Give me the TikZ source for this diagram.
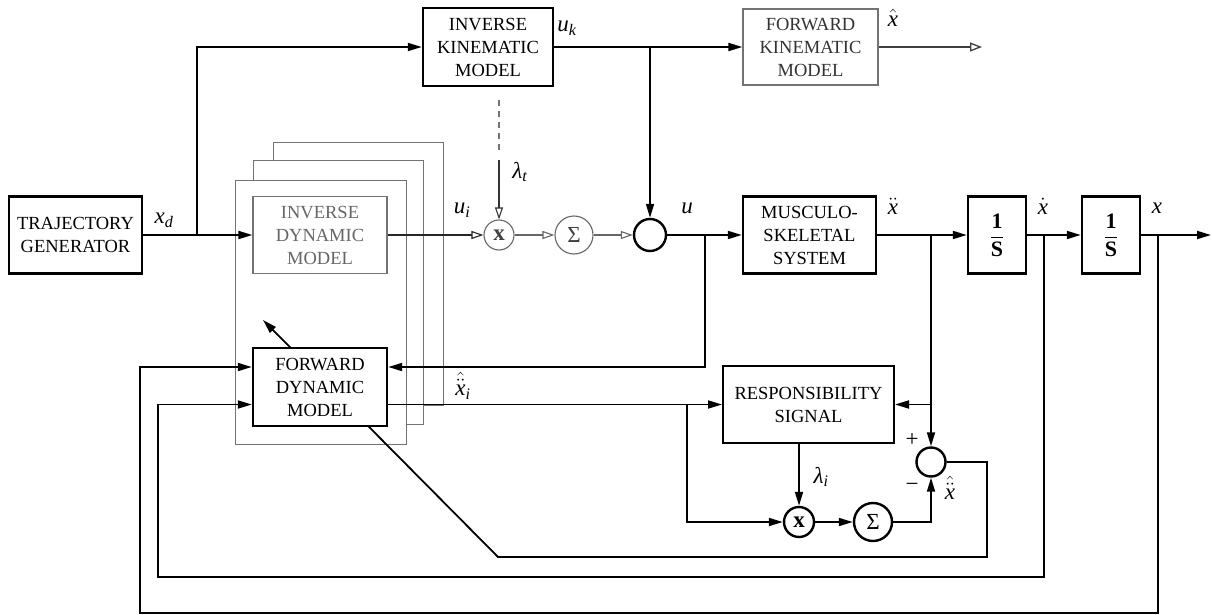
\documentclass[tikz,border=0pt]{standalone}
\usepackage{fontspec}
\setmainfont{Liberation Serif}
\usetikzlibrary{arrows.meta,calc}
\pgfdeclarelayer{background}
\pgfsetlayers{background,main}
\newcommand{\blkfont}{\fontsize{18.5}{23}\selectfont}
\newcommand{\lblfont}{\fontsize{23}{26}\selectfont}
\newcommand{\fracfont}{\fontsize{22}{26}\selectfont}
\newcommand{\ix}{\mbox{\textit{x}}}
\newcommand{\sbi}[1]{\textsubscript{\textit{#1}}}
\tikzset{
  blk/.style={draw, line width=2.4pt, fill=white, inner sep=0pt, align=center, font=\blkfont},
  gblk/.style={blk, draw=black!55, line width=1.3pt, text=black!60},
  frm/.style={draw=black!55, line width=0.9pt, fill=white},
  wire/.style={line width=1.8pt},
  arr/.style={wire, -{Triangle[length=14pt,width=8pt]}},
  oarr/.style={line width=1.1pt, draw=black!60, -{Triangle[open,length=12pt,width=8pt]}},
  oarrk/.style={line width=1.3pt, draw=black!75, -{Triangle[open,length=12pt,width=9pt]}},
  circ/.style={circle, draw, line width=2.4pt, fill=white, inner sep=0pt, font=\lblfont},
  gcirc/.style={circle, draw=black!60, line width=1.1pt, fill=white, inner sep=0pt, font=\lblfont, text=black!75},
  lbl/.style={inner sep=0pt, font=\lblfont},
}
\begin{document}
\begin{tikzpicture}[x=1pt,y=-1pt]
\useasboundingbox (0,0) rectangle (1212,615);

% blocks
\node[blk, minimum width=133pt, minimum height=77pt] (traj) at (75.5,235) {TRAJECTORY\\GENERATOR};
\node[blk, minimum width=130pt, minimum height=78pt] (ikm) at (488,47) {INVERSE\\KINEMATIC\\MODEL};
\node[gblk, text=black!80, minimum width=135pt, minimum height=76pt] (fkm) at (810.5,47) {FORWARD\\KINEMATIC\\MODEL};
\node[blk, minimum width=133pt, minimum height=77pt] (mss) at (809.5,235) {MUSCULO-\\SKELETAL\\SYSTEM};
\node[blk, font=\fracfont, minimum width=58pt, minimum height=77pt] (int1) at (997,235) {$\displaystyle\frac{\textbf{1}}{\textbf{S}}$};
\node[blk, font=\fracfont, minimum width=58pt, minimum height=77pt] (int2) at (1111,235) {$\displaystyle\frac{\textbf{1}}{\textbf{S}}$};
\node[blk, line width=2pt, minimum width=171pt, minimum height=77pt] (resp) at (808.5,404.5) {RESPONSIBILITY\\SIGNAL};

% stacked module frames
\begin{pgfonlayer}{background}
\draw[frm] (273,142) rectangle (443,405);
\draw[frm] (253,160) rectangle (423,424);
\draw[frm] (235,180) rectangle (406,444);
\end{pgfonlayer}

\node[gblk, minimum width=134pt, minimum height=77pt] (idm) at (320,235) {INVERSE\\DYNAMIC\\MODEL};
\node[blk, minimum width=134pt, minimum height=78pt] (fdm) at (320,387) {FORWARD\\DYNAMIC\\MODEL};

% circles
\node[gcirc, minimum size=30pt] (m1) at (499,235) {\textbf{x}};
\node[gcirc, minimum size=38pt] (s1) at (574,235) {Σ};
\node[circ, minimum size=32pt] (cu) at (650,235) {};
\node[circ, minimum size=29pt] (cp) at (931,462) {};
\node[circ, minimum size=30pt] (m2) at (799,522) {\textbf{x}};
\node[circ, minimum size=38pt] (s2) at (873,522) {Σ};

% junctions and free ends
\coordinate (jxd) at (197,235);
\coordinate (juk) at (650,47);
\coordinate (fkmout) at (982,47);
\coordinate (lt1) at (499,100);
\coordinate (lt2) at (499,150);
\coordinate (lt3) at (499,160);
\coordinate (ju) at (705,235);
\coordinate (jdd) at (931,235);
\coordinate (jd) at (1044,235);
\coordinate (jx) at (1158,235);
\coordinate (xout) at (1211,235);
\coordinate (c1) at (158,577);
\coordinate (c2) at (140,613);
\coordinate (jr) at (687,404.5);
\coordinate (c3) at (987,557);
\coordinate (c4) at (498,557);
\coordinate (c5) at (263,320);

% connectors
\draw[arr] (traj.east) -- (idm.west);
\draw[arr] (jxd) |- (ikm.west);
\draw[arr] (ikm.east) -- (fkm.west);
\draw[arr] (juk) -- (cu.north);
\draw[oarrk] (fkm.east) -- (fkmout);
\draw[line width=1.1pt, draw=black!55, dash pattern=on 6pt off 5pt] (lt1) -- (lt2);
\draw[oarr, draw=black!80] (lt3) -- (m1.north);
\draw[oarr, draw=black!85] (idm.east) -- (m1.west);
\draw[oarr] (m1.east) -- (s1.west);
\draw[oarr] (s1.east) -- (cu.west);
\draw[arr] (cu.east) -- (mss.west);
\draw[arr] (ju) |- ([yshift=20pt]fdm.east);
\draw[arr] (mss.east) -- (int1.west);
\draw[arr] (jdd) |- (resp.east);
\draw[arr] (jdd) -- (cp.north);
\draw[arr] (int1.east) -- (int2.west);
\draw[arr] (jd) |- (c1) |- (resp.west -| fdm.west);
\draw[arr] (int2.east) -- (xout);
\draw[arr] (jx) |- (c2) |- ([yshift=20pt]fdm.west);
\draw[arr] (resp.west -| fdm.east) -- (resp.west);
\draw[arr] (jr) |- (m2.west);
\draw[arr] (m2 |- resp.south) -- (m2.north);
\draw[arr] (m2.east) -- (s2.west);
\draw[arr] (s2.east) -| (cp.south);
\begin{pgfonlayer}{background}
\draw[arr] (cp.east) -| (c3) -- (c4) -- (c5);
\end{pgfonlayer}

% labels
\node[lbl] (lxd) at (164,220) {\textit{x}\sbi{d}};
\node[lbl] (luk) at (567,28) {\textit{u}\sbi{k}};
\node[lbl] (lxh) at (893,18) {$\hat{\ix}$};
\node[lbl] (llt) at (520,172) {\textit{λ}\sbi{t}};
\node[lbl] (lui) at (462,210) {\textit{u}\sbi{i}};
\node[lbl] (lu) at (687,208) {\textit{u}};
\node[lbl] (lxdd) at (893,206) {$\ddot{\ix}$};
\node[lbl] (lxd1) at (1043,206) {$\dot{\ix}$};
\node[lbl] (lx) at (1157,208) {\textit{x}};
\node[lbl] (lxi) at (463,386) {$\hat{\ddot{\ix}}$\sbi{i}};
\node[lbl] (lli) at (821,477) {\textit{λ}\sbi{i}};
\node[lbl] (lp) at (912,440) {+};
\node[lbl] (lm) at (912,487) {−};
\node[lbl] (lxhdd) at (950,488) {$\hat{\ddot{\ix}}$};
\end{tikzpicture}
\end{document}
